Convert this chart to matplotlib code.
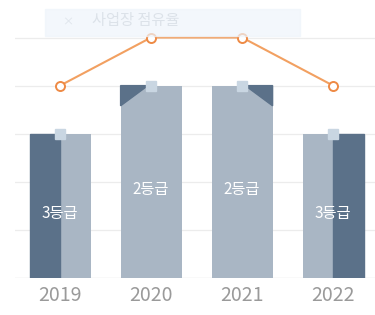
import numpy as np
import matplotlib.pyplot as plt
from matplotlib.patches import Polygon, Rectangle

plt.rcParams['font.family'] = ['Noto Sans CJK KR', 'DejaVu Sans']

years = ['2019', '2020', '2021', '2022']
bar_values = [3, 4, 4, 3]
grade_labels = ['3등급', '2등급', '2등급', '3등급']
line_values = [4, 5, 5, 4]
legend_text = '사업장 점유율'

light = '#a9b6c4'
dark = '#5b7189'
orange = '#f2a061'

fig = plt.figure(figsize=(3.75, 3.15), dpi=100)
ax = fig.add_axes([15 / 375, 37 / 315, 360 / 375, 278 / 315])
ax.set_xlim(-0.495, 3.46)
ax.set_ylim(0, 5.78)

for y in range(1, 6):
    ax.axhline(y, color='#ececec', lw=0.9, zorder=0)
ax.axhline(0, color='#e2e2e2', lw=1.0, zorder=0)

x = np.arange(len(years))
w = 0.67
ax.bar(x, bar_values, width=w, color=light, zorder=2)

# dark decorations on each bar
decor = ['left', 'tri_left', 'tri_right', 'right']
for xi, v, d in zip(x, bar_values, decor):
    if d == 'left':
        ax.add_patch(Rectangle((xi - w / 2, 0), w / 2, v, color=dark, zorder=3))
    elif d == 'right':
        ax.add_patch(Rectangle((xi, 0), w / 2, v, color=dark, zorder=3))
    elif d == 'tri_left':
        ax.add_patch(Polygon([(xi - w / 2, v), (xi - w / 2 + 0.3, v), (xi - w / 2, v - 0.42)],
                             color=dark, zorder=3))
    else:
        ax.add_patch(Polygon([(xi + w / 2, v), (xi + w / 2 - 0.3, v), (xi + w / 2, v - 0.42)],
                             color=dark, zorder=3))

ax.plot(x, bar_values, ls='none', marker='s', ms=6.5, color='#c9d6e2', zorder=4)

for xi, v, lab in zip(x, bar_values, grade_labels):
    ax.text(xi, v / 2 - 0.15, lab, ha='center', va='center', color='white', fontsize=11, zorder=5)

ax.plot(x, line_values, color=orange, lw=1.5, marker='o', ms=6.5,
        mfc='white', mec='#ee8a45', mew=1.4, zorder=6)

ax.set_xticks(x)
ax.set_xticklabels(years, fontsize=14, color='#9a9a9a')
ax.tick_params(length=0, pad=5)
ax.set_yticks([])
for s in ax.spines.values():
    s.set_visible(False)

# faded legend box at top
fig.patches.append(Rectangle((45 / 375, 1 - 36 / 315), 255 / 375, 27 / 315,
                             transform=fig.transFigure, color='#eef4fb', alpha=0.7, zorder=10))
fig.text(62 / 375, 1 - 22 / 315, '×', color='#dde3ea', fontsize=8, va='center', zorder=11)
fig.text(92 / 375, 1 - 21 / 315, legend_text, color='#dce2e9', fontsize=11, va='center', zorder=11)

fig.savefig('out.png', dpi=100)
